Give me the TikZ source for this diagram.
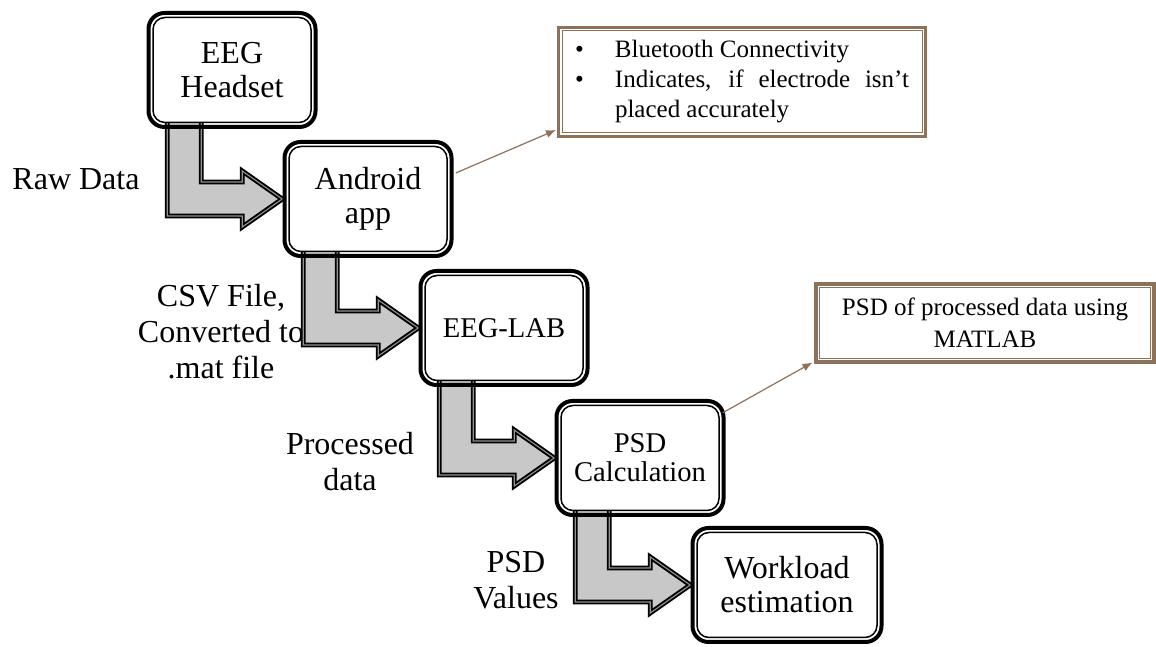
\documentclass[tikz,border=0pt]{standalone}
\usepackage{fontspec}
\setmainfont{Liberation Serif}
\usetikzlibrary{calc,arrows.meta}
\definecolor{notebrown}{RGB}{140,114,90}
\pgfdeclarelayer{background}
\pgfsetlayers{background,main}

\begin{document}
\begin{tikzpicture}[x=0.5pt,y=0.5pt]
    \tikzset{stage/.style={draw, line width=0.75pt, rounded corners=6pt, fill=white,
        align=center, minimum width=79pt, minimum height=52.5pt,
        font=\fontsize{16}{17}\selectfont},
      smallstage/.style={stage, font=\fontsize{14.3}{14.5}\selectfont},
      stageframe/.style={draw, line width=2pt, rounded corners=8pt},
      note/.style={draw=notebrown, line width=0.5pt, fill=white, inner sep=2pt},
      noteframe/.style={draw=notebrown, line width=1.6pt},
      flowlabel/.style={align=center, font=\fontsize{16}{18}\selectfont},
      bentarrow/.style={fill=gray!43, draw=black, line width=0.95pt,
        double=gray!85, double distance=0.55pt, line join=miter},
      pointer/.style={draw=notebrown, line width=0.6pt, -{Latex[length=5pt,width=4pt]}}}
    \useasboundingbox (0,0) rectangle (1156,647);

    % processing chain
    \node[stage] (headset) at (232,577) {EEG\\Headset};
    \node[stage] (android) at (368,448) {Android\\app};
    \node[smallstage] (eeglab) at (504,319) {EEG-LAB};
    \node[smallstage] (psd) at (640,189) {PSD\\Calculation};
    \node[stage, minimum width=90pt] (workload) at (787,62) {Workload\\estimation};
    \foreach \n in {headset,android,eeglab,psd,workload}
      \draw[stageframe] ($(\n.south west)+(-3.75,-3.75)$) rectangle ($(\n.north east)+(3.75,3.75)$);

    % side notes
    \node[note, text width=169pt, minimum width=180pt, minimum height=51pt, align=justify,
      font=\fontsize{12.5}{15}\selectfont] (bluetooth) at (742,565)
      {\makebox[21pt][l]{\hspace{1pt}\textbullet}\parbox[t]{147pt}{Bluetooth Connectivity}\\
       \makebox[21pt][l]{\hspace{1pt}\textbullet}\parbox[t]{147pt}{Indicates, if electrode isn't placed accurately}};
    \node[note, minimum width=165.5pt, minimum height=35.5pt, align=center,
      font=\fontsize{12.5}{16}\selectfont] (matlab) at (985,324) {PSD of processed data using\\MATLAB};
    \foreach \n in {bluetooth,matlab}
      \draw[noteframe] ($(\n.south west)+(-3,-3)$) rectangle ($(\n.north east)+(3,3)$);

    \draw[pointer] ($(android.east)+(8,26)$) -- ($(bluetooth.south west)+(-5.5,3.5)$);
    \draw[pointer] ($(psd.north east)+(3,-8)$) -- ($(matlab.south west)+(-6.5,-3.5)$);

    % data labels and bent arrows, behind the boxes
    \begin{pgfonlayer}{background}
      \node[flowlabel] (rawdata) at (76,468) {Raw Data};
      \node[flowlabel] (csvfile) at (221,315) {CSV File,\\Converted to\\.mat file};
      \node[flowlabel] (processed) at (350,185) {Processed\\data};
      \node[flowlabel] (psdvalues) at (516,67) {PSD\\Values};
      \foreach \src/\dst in {headset/android,android/eeglab,eeglab/psd,psd/workload}
        \draw[bentarrow] ($(\src.south west)+(15,10)$) |- ($(\dst.west)+(-46,-17)$) -- ++(0,-11)
          -- ($(\dst.west)+(-6,0)$) -- ($(\dst.west)+(-46,28)$) -- ++(0,-11)
          -| ($(\src.south west)+(49,10)$) -- cycle;
    \end{pgfonlayer}
\end{tikzpicture}
\end{document}
